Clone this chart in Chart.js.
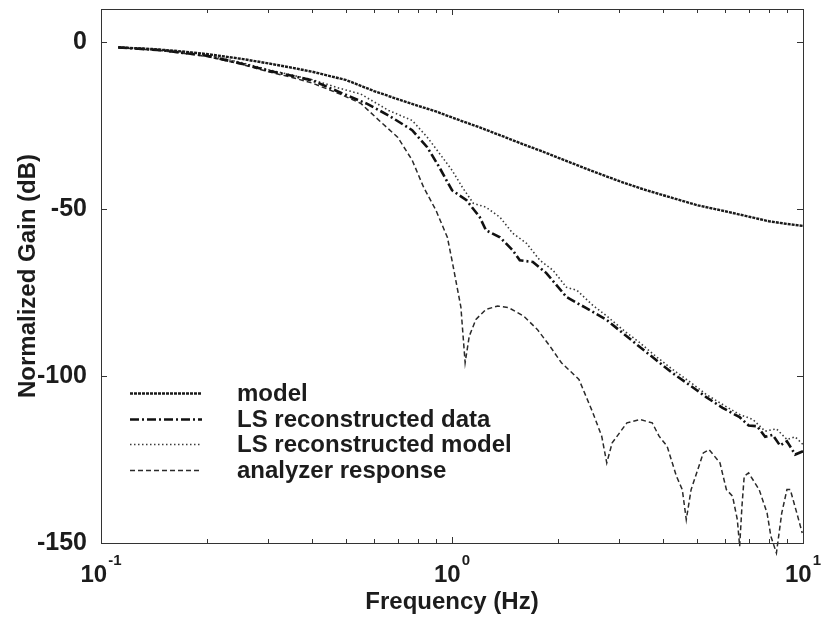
<!DOCTYPE html>
<html>
<head>
<meta charset="utf-8">
<script src="https://cdn.jsdelivr.net/npm/chart.js@4.4.1/dist/chart.umd.min.js"></script>
<style>
  html, body { margin: 0; padding: 0; background: #fff; }
</style>
</head>
<body>
<canvas id="c" width="822" height="621"></canvas>
<script>
// values (Hz, dB)
const modelFreq = [0.112, 0.14, 0.17, 0.2, 0.25, 0.3, 0.35, 0.4, 0.5, 0.6, 0.7, 0.8, 0.9, 1.0, 1.2, 1.4, 1.6, 1.8, 2.0, 2.5, 3.0, 3.5, 4.0, 5.0, 6.0, 7.0, 8.0, 9.0, 10.0];
const modelGain = [-1.5, -2.0, -2.7, -3.5, -4.9, -6.3, -7.6, -8.8, -11.3, -14.6, -17.0, -19.0, -20.7, -22.5, -25.5, -28.2, -30.6, -32.6, -34.5, -38.5, -41.6, -44.0, -45.8, -48.8, -50.6, -52.2, -53.6, -54.4, -55.0];

const lsDataFreq = [0.112, 0.15, 0.2, 0.25, 0.3, 0.35, 0.4, 0.48, 0.57, 0.66, 0.77, 0.85, 0.92, 1.0, 1.1, 1.2, 1.25, 1.37, 1.49, 1.56, 1.7, 1.86, 2.12, 2.4, 2.76, 3.1, 3.43, 3.8, 4.25, 4.8, 5.3, 5.9, 6.6, 7.0, 7.4, 7.8, 8.2, 8.6, 9.0, 9.5, 10.0];
const lsDataGain = [-1.5, -2.4, -4.0, -6.3, -8.5, -10.0, -11.4, -15.0, -18.3, -21.9, -26.3, -31.4, -37.4, -44.3, -47.3, -52.4, -56.3, -58.4, -62.3, -65.3, -65.8, -69.2, -76.3, -79.5, -83.2, -87.5, -91.3, -95.0, -99.1, -103.0, -106.3, -109.5, -112.3, -114.8, -115.0, -118.2, -117.6, -120.8, -119.5, -123.5, -122.5];

const lsModelFreq = [0.112, 0.15, 0.2, 0.25, 0.3, 0.35, 0.4, 0.48, 0.55, 0.66, 0.77, 0.85, 0.92, 1.0, 1.07, 1.15, 1.25, 1.37, 1.49, 1.63, 1.78, 1.94, 2.12, 2.27, 2.5, 2.76, 3.1, 3.43, 3.8, 4.25, 4.8, 5.3, 5.9, 6.6, 7.2, 7.8, 8.4, 9.0, 9.5, 10.0];
const lsModelGain = [-1.4, -2.2, -3.8, -6.0, -8.2, -9.8, -11.2, -13.8, -15.5, -20.4, -23.4, -28.4, -33.2, -38.3, -43.4, -48.2, -49.4, -52.4, -57.2, -60.2, -65.3, -68.3, -73.4, -74.3, -78.5, -82.0, -86.5, -90.0, -94.0, -98.0, -102.0, -105.5, -108.5, -111.5, -113.0, -116.5, -115.8, -119.0, -118.2, -120.5];

const analyzerFreq = [0.112, 0.15, 0.2, 0.25, 0.3, 0.35, 0.4, 0.48, 0.55, 0.62, 0.70, 0.77, 0.83, 0.90, 0.97, 1.0, 1.06, 1.09, 1.12, 1.17, 1.25, 1.35, 1.45, 1.6, 1.75, 1.9, 2.05, 2.3, 2.52, 2.67, 2.76, 2.86, 3.15, 3.43, 3.72, 3.89, 4.1, 4.36, 4.53, 4.65, 4.8, 5.2, 5.4, 5.8, 6.05, 6.3, 6.5, 6.6, 6.7, 6.8, 7.0, 7.5, 7.9, 8.1, 8.4, 8.7, 9.0, 9.2, 9.6, 9.95];
const analyzerGain = [-1.6, -2.5, -4.2, -6.5, -8.8, -10.5, -12.2, -15.5, -18.3, -23.4, -28.4, -35.3, -43.4, -50.3, -58.4, -65.3, -79.3, -96.0, -88.0, -83.0, -80.0, -79.0, -79.5, -82.0, -86.0, -91.0, -96.0, -101.0, -111.0, -118.0, -126.0, -120.0, -114.0, -113.0, -114.0, -118.0, -121.0, -130.0, -134.0, -143.0, -134.0, -123.0, -122.0, -126.0, -134.0, -136.0, -143.0, -151.0, -139.0, -130.0, -129.0, -134.0, -141.0, -148.0, -153.0, -141.0, -134.0, -134.0, -141.0, -147.0];

const yTickValues = [-150, -100, -50, 0];
const xTickValues = [0.1, 0.2, 0.3, 0.4, 0.5, 0.6, 0.7, 0.8, 0.9, 1, 2, 3, 4, 5, 6, 7, 8, 9, 10];
const xDecades = [0.1, 1, 10];
const xExponents = ['-1', '0', '1'];

const FONT = '"Liberation Sans", Arial, Helvetica, sans-serif';
const INK = '#1c1c1c';

const pts = (fs, gs) => fs.map((f, i) => ({ x: f, y: gs[i] }));

// box round the plot with inward ticks on all four sides
const frameTicks = {
  id: 'frameTicks',
  afterDraw(chart) {
    const { ctx, chartArea: a, scales: { x, y } } = chart;
    ctx.save();
    ctx.strokeStyle = '#333';
    ctx.lineWidth = 1;
    ctx.strokeRect(a.left + 0.5, a.top + 0.5, a.width, a.height);
    ctx.beginPath();
    xTickValues.forEach(v => {
      const px = Math.round(x.getPixelForValue(v)) + 0.5;
      const len = xDecades.includes(v) ? 6 : 4;
      ctx.moveTo(px, a.bottom); ctx.lineTo(px, a.bottom - len);
      ctx.moveTo(px, a.top); ctx.lineTo(px, a.top + len);
    });
    yTickValues.forEach(v => {
      const py = Math.round(y.getPixelForValue(v)) + 0.5;
      ctx.moveTo(a.left, py); ctx.lineTo(a.left + 6, py);
      ctx.moveTo(a.right, py); ctx.lineTo(a.right - 6, py);
    });
    ctx.stroke();
    ctx.restore();
  }
};

// 10^n labels under the decades
const decadeLabels = {
  id: 'decadeLabels',
  afterDraw(chart) {
    const { ctx, chartArea: a, scales: { x } } = chart;
    ctx.save();
    ctx.fillStyle = INK;
    ctx.textBaseline = 'alphabetic';
    xDecades.forEach((v, i) => {
      const px = x.getPixelForValue(v);
      ctx.font = 'bold 24px ' + FONT;
      const wb = ctx.measureText('10').width;
      ctx.font = 'bold 15px ' + FONT;
      const we = ctx.measureText(xExponents[i]).width;
      const left = px - (wb + we + 1) / 2;
      ctx.font = 'bold 24px ' + FONT;
      ctx.fillText('10', left, a.bottom + 39);
      ctx.font = 'bold 15px ' + FONT;
      ctx.fillText(xExponents[i], left + wb + 1, a.bottom + 22);
    });
    ctx.restore();
  }
};

// legend sits inside the plot, lower left
const insideLegend = {
  id: 'insideLegend',
  afterDraw(chart) {
    const { ctx, chartArea: a } = chart;
    ctx.save();
    chart.data.datasets.forEach((ds, i) => {
      const yy = Math.round(a.top + 384 + i * 25.7) + 0.5;
      ctx.strokeStyle = ds.borderColor;
      ctx.lineWidth = ds.borderWidth;
      ctx.setLineDash(ds.borderDash || []);
      ctx.beginPath();
      ctx.moveTo(a.left + 29, yy);
      ctx.lineTo(a.left + 101, yy);
      ctx.stroke();
      ctx.setLineDash([]);
      ctx.fillStyle = INK;
      ctx.font = 'bold 24px ' + FONT;
      ctx.textBaseline = 'middle';
      ctx.fillText(ds.label, a.left + 136, yy + 1);
    });
    ctx.restore();
  }
};

new Chart(document.getElementById('c'), {
  type: 'line',
  data: {
    datasets: [
      { label: 'model', data: pts(modelFreq, modelGain), borderColor: '#1a1a1a', borderWidth: 2.4, borderDash: [3, 1] },
      { label: 'LS reconstructed data', data: pts(lsDataFreq, lsDataGain), borderColor: '#111', borderWidth: 2.6, borderDash: [9, 3, 2, 3] },
      { label: 'LS reconstructed model', data: pts(lsModelFreq, lsModelGain), borderColor: '#3a3a3a', borderWidth: 1.6, borderDash: [1.5, 2.5] },
      { label: 'analyzer response', data: pts(analyzerFreq, analyzerGain), borderColor: '#2a2a2a', borderWidth: 1.5, borderDash: [5, 3], clip: false },
    ]
  },
  options: {
    responsive: false,
    animation: false,
    layout: { padding: { top: 9, right: 19, left: 0, bottom: 0 } },
    elements: { point: { radius: 0 }, line: { tension: 0 } },
    plugins: { legend: { display: false }, tooltip: { enabled: false } },
    scales: {
      x: {
        type: 'logarithmic', min: 0.1, max: 10,
        grid: { display: false }, border: { display: false },
        ticks: { display: false },
        title: { display: true, text: 'Frequency (Hz)', color: INK, font: { family: FONT, size: 24, weight: 'bold' }, padding: { top: 0, bottom: 4 } },
        afterFit: s => { s.height = 78; s.paddingLeft = 0; s.paddingRight = 0; },
      },
      y: {
        min: -150, max: 10,
        afterBuildTicks: s => { s.ticks = yTickValues.map(v => ({ value: v })); },
        grid: { display: false }, border: { display: false },
        ticks: { color: INK, padding: 6, font: { family: FONT, size: 25, weight: 'bold' } },
        title: { display: true, text: 'Normalized Gain (dB)', color: INK, font: { family: FONT, size: 24, weight: 'bold' }, padding: { top: 14, bottom: 0 } },
        // top label sits well inside the box, so no extra room is needed above
        afterFit: s => { s.width = 101; s.paddingTop = 0; s.paddingBottom = 0; },
      }
    }
  },
  plugins: [frameTicks, decadeLabels, insideLegend]
});
</script>
</body>
</html>
